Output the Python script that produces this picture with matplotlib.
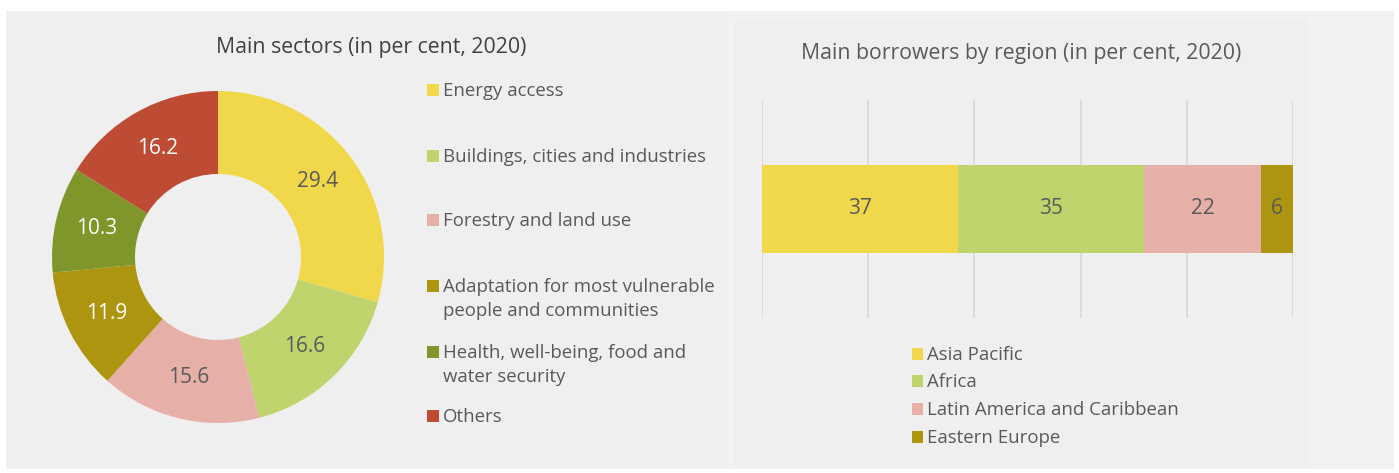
import matplotlib.pyplot as plt
from matplotlib.patches import Rectangle

plt.rcParams['font.family'] = ['Open Sans', 'DejaVu Sans']

# left: main sectors
sectors = ["Energy access", "Buildings, cities and industries", "Forestry and land use",
           "Adaptation for most vulnerable\npeople and communities",
           "Health, well-being, food and\nwater security", "Others"]
sector_vals = [29.4, 16.6, 15.6, 11.9, 10.3, 16.2]
sector_cols = ["#F0D84A", "#C0D46D", "#E6B0A8", "#AD9510", "#7F962B", "#BE4B33"]
sector_txt = ["#595959", "#595959", "#595959", "white", "white", "white"]

# right: main borrowers
regions = ["Asia Pacific", "Africa", "Latin America and Caribbean", "Eastern Europe"]
region_vals = [37, 35, 22, 6]
region_cols = ["#F0D84A", "#C0D46D", "#E6B0A8", "#AD9510"]

W, H = 1399, 473
fig = plt.figure(figsize=(W / 100, H / 100), dpi=100)
fig.patch.set_facecolor("white")


def px(x, y):
    return x / W, 1 - y / H


def rect(x0, y0, x1, y1, c):
    fig.patches.append(Rectangle(px(x0, y1), (x1 - x0) / W, (y1 - y0) / H,
                                 transform=fig.transFigure, color=c, zorder=-10, lw=0))


rect(6, 11, 1394, 469, "#f2f2f2")
rect(6, 11, 728, 467, "#efefef")
rect(734, 19, 1308, 467, "#efefef")

grey = "#595959"

# donut
cx, cy, R = 218, 257, 166
half = 172
ax = fig.add_axes([(cx - half) / W, 1 - (cy + half) / H, 2 * half / W, 2 * half / H])
wedges, _, autotexts = ax.pie(sector_vals, colors=sector_cols, startangle=90, counterclock=False,
                              radius=1, wedgeprops=dict(width=0.5, linewidth=0),
                              autopct=lambda p: "", pctdistance=0.75)
for t, v, c in zip(autotexts, sector_vals, sector_txt):
    t.set_text(f"{v:.1f}")
    t.set_color(c)
    t.set_fontsize(15)
ax.set_xlim(-half / R, half / R)
ax.set_ylim(-half / R, half / R)
ax.set_aspect("equal")
ax.axis("off")

fig.text(*px(371, 47), "Main sectors (in per cent, 2020)", ha="center", va="center",
         fontsize=15.3, color="#404040")

ys = [90, 156, 220, 286, 352, 416]
for lab, c, y in zip(sectors, sector_cols, ys):
    rect(427, y - 6, 439, y + 6, c)
    fig.text(443 / W, 1 - (y - 8) / H, lab, ha="left", va="top", fontsize=13.4,
             color=grey, linespacing=1.45)

# stacked bar
bx = fig.add_axes([762 / W, 1 - 318 / H, (1293 - 762) / W, (318 - 100) / H])
bx.set_facecolor("none")
left = 0
for v, c in zip(region_vals, region_cols):
    bx.barh(0, v, left=left, height=0.4, color=c, zorder=3)
    bx.text(left + v / 2, 0, str(v), ha="center", va="center", fontsize=15, color=grey, zorder=4)
    left += v
bx.set_xlim(0, 100)
bx.set_ylim(-0.5, 0.5)
bx.set_xticks(range(0, 101, 20))
bx.set_yticks([])
bx.grid(axis="x", color="#d9d9d9", lw=1.3, zorder=0)
bx.tick_params(axis="x", length=0, labelbottom=False)
for s in bx.spines.values():
    s.set_visible(False)

fig.text(*px(1021, 53), "Main borrowers by region (in per cent, 2020)", ha="center", va="center",
         fontsize=15.3, color=grey)

ry = [354, 381, 409, 437]
for lab, c, y in zip(regions, region_cols, ry):
    rect(912, y - 6, 923, y + 6, c)
    fig.text(927 / W, 1 - (y + 1) / H, lab, ha="left", va="center", fontsize=13.4, color=grey)

fig.savefig("out.png", dpi=100, facecolor="white")
